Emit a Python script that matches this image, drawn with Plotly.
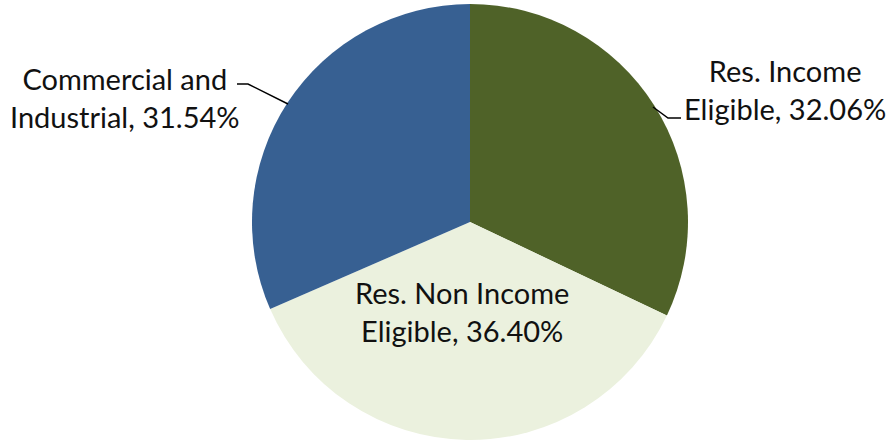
import plotly.graph_objects as go

categories = ["Res. Income Eligible", "Res. Non Income Eligible", "Commercial and Industrial"]
values = [32.06, 36.40, 31.54]
colors = ["#4F6228", "#EBF1DE", "#376092"]
label_texts = ["Res. Income<br>Eligible, 32.06%",
               "Res. Non Income<br>Eligible, 36.40%",
               "Commercial and<br>Industrial, 31.54%"]

W, H = 893, 442
cx, cy, r = 470, 222, 218

fig = go.Figure(go.Pie(
    labels=categories, values=values, sort=False, direction="clockwise", rotation=0,
    marker=dict(colors=colors, line=dict(width=0)),
    textinfo="none", hoverinfo="label+percent", showlegend=False,
    domain=dict(x=[(cx - r) / W, (cx + r) / W],
                y=[max(0, (H - cy - r) / H), min(1, (H - cy + r) / H)]),
))

def px(x, y):
    return x / W, 1 - y / H

font = dict(family="Lato, Open Sans, sans-serif", size=29, color="#111111")
label_pos = [(785, 90), (462, 311), (125, 97)]
for txt, (x, y) in zip(label_texts, label_pos):
    ax, ay = px(x, y)
    fig.add_annotation(x=ax, y=ay, xref="paper", yref="paper", text=txt, showarrow=False,
                       font=font, align="center", xanchor="center", yanchor="middle")

leaders = [[(653, 107), (668, 118), (681, 118)],
           [(237, 84), (248, 84), (288, 104)]]
for pts in leaders:
    path = "M " + " L ".join(f"{px(x, y)[0]},{px(x, y)[1]}" for x, y in pts)
    fig.add_shape(type="path", path=path, xref="paper", yref="paper",
                  line=dict(color="black", width=1.5))

fig.update_layout(width=W, height=H, margin=dict(l=0, r=0, t=0, b=0),
                  paper_bgcolor="white", plot_bgcolor="white")
fig.write_html("out.html", config={"displayModeBar": False},
               post_script="document.body.style.margin='0';")
